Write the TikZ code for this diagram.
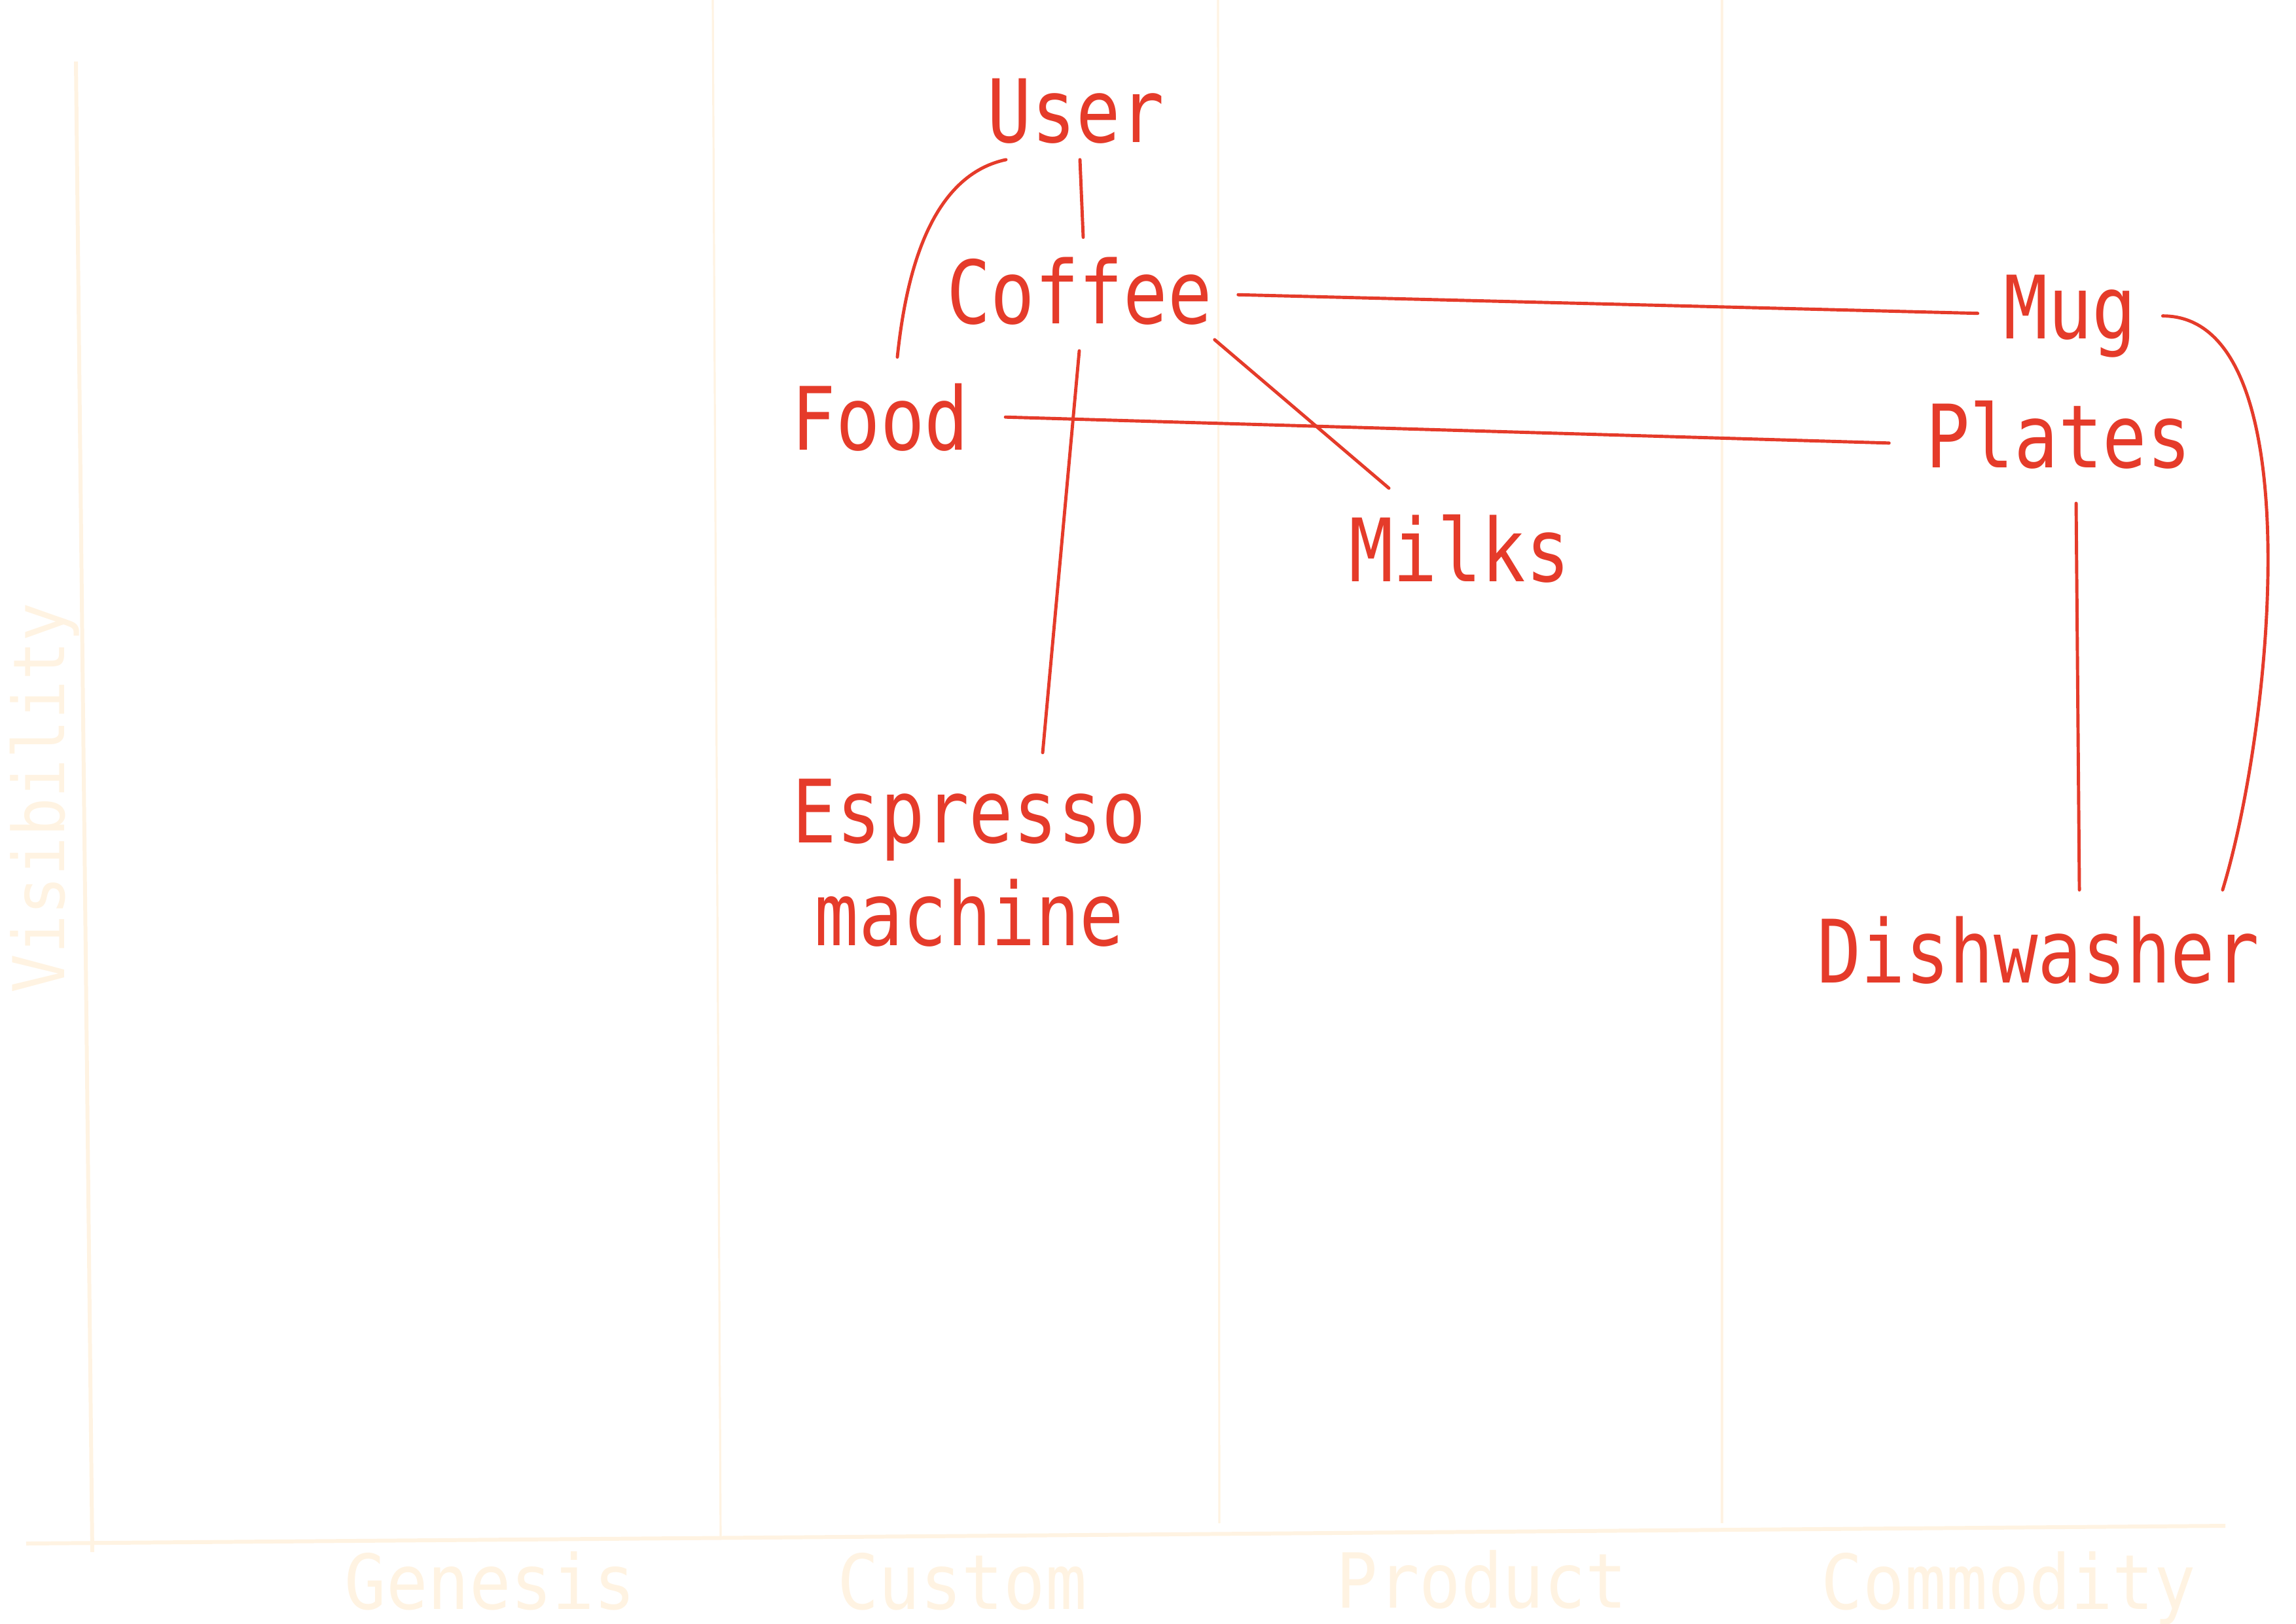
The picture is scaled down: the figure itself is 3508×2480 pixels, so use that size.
\documentclass[tikz,border=0pt]{standalone}
\usepackage{fontspec}
\usepackage{tikz}
\newfontfamily\mapfont[FakeStretch=0.84]{DejaVu Sans Mono}
\newfontfamily\axisfont[FakeStretch=0.91]{DejaVu Sans Mono}
\definecolor{mapred}{HTML}{E53B2A}
\definecolor{mapcream}{HTML}{FFF3E2}

\begin{document}
\begin{tikzpicture}[x=0.01cm,y=0.01cm,
  comp/.style={color=mapred, font=\mapfont\fontsize{38}{44.7}\selectfont,
               inner sep=0pt, outer sep=0.4cm, anchor=base},
  stage/.style={color=mapcream, font=\axisfont\fontsize{33}{40}\selectfont,
                inner sep=0pt, anchor=base},
  link/.style={draw=mapred, line width=1.4pt, line cap=round},
  grid/.style={draw=mapcream, line width=0.9pt}]
\useasboundingbox (0,0) rectangle (3508,-2480);

% axes and evolution stages
\draw[grid, line width=1.7pt] (116,-94) -- (141,-2371);
\draw[grid, line width=1.7pt] (40,-2358) -- (3400,-2331);
\draw[grid] (1089,0) -- (1101,-2349);
\draw[grid] (1861,0) -- (1863,-2327);
\draw[grid] (2631,0) -- (2631,-2327);

\node[stage] (genesis)   at (749,-2458)  {Genesis};
\node[stage] (custom)    at (1470,-2458) {Custom};
\node[stage] (product)   at (2264,-2456) {Product};
\node[stage] (commodity) at (3069,-2458) {Commodity};
\node[stage, anchor=center, rotate=90, font=\axisfont\fontsize{31}{38}\selectfont]
  (visibility) at (68,-1219) {Visibility};

% components
\node[comp, outer sep=0.25cm] (user) at (1644,-217) {User};
\node[comp] (coffee) at (1649,-494)  {Coffee};
\node[comp] (food)   at (1345,-687)  {Food};
\node[comp] (milks)  at (2230,-888)  {Milks};
\node[comp, anchor=center, align=center] (espresso) at (1481,-1318) {Espresso\\machine};
\node[comp] (mug)    at (3163,-517)  {Mug};
\node[comp] (plates) at (3145,-714)  {Plates};
\node[comp] (dish)   at (3114,-1501) {Dishwasher};

% links
\draw[link] ([xshift=0.06cm]user.south) -- ([xshift=0.06cm,yshift=-0.1cm]coffee.north);
\draw[link] ([yshift=0.04cm]coffee) -- (mug);
\draw[link] ([xshift=-0.36cm,yshift=0.17cm]coffee.south east) -- (milks);
\draw[link] (coffee.south) -- ([xshift=1.12cm]espresso.north);
\draw[link] ([xshift=0.16cm]food.east) -- ([xshift=-0.16cm,yshift=-0.13cm]plates.west);
\draw[link] ([xshift=0.27cm,yshift=-0.13cm]plates.south) -- ([xshift=0.63cm]dish.north);
\draw[link] ([xshift=0.26cm]food.north)
  to[out=84,in=192,out distance=1.1cm,in distance=1.25cm] ([xshift=-1.07cm]user.south);
\draw[link] (mug.east)
  to[out=0,in=73,out distance=2.3cm,in distance=2.6cm] ([xshift=-0.96cm]dish.north east);
\end{tikzpicture}
\end{document}
